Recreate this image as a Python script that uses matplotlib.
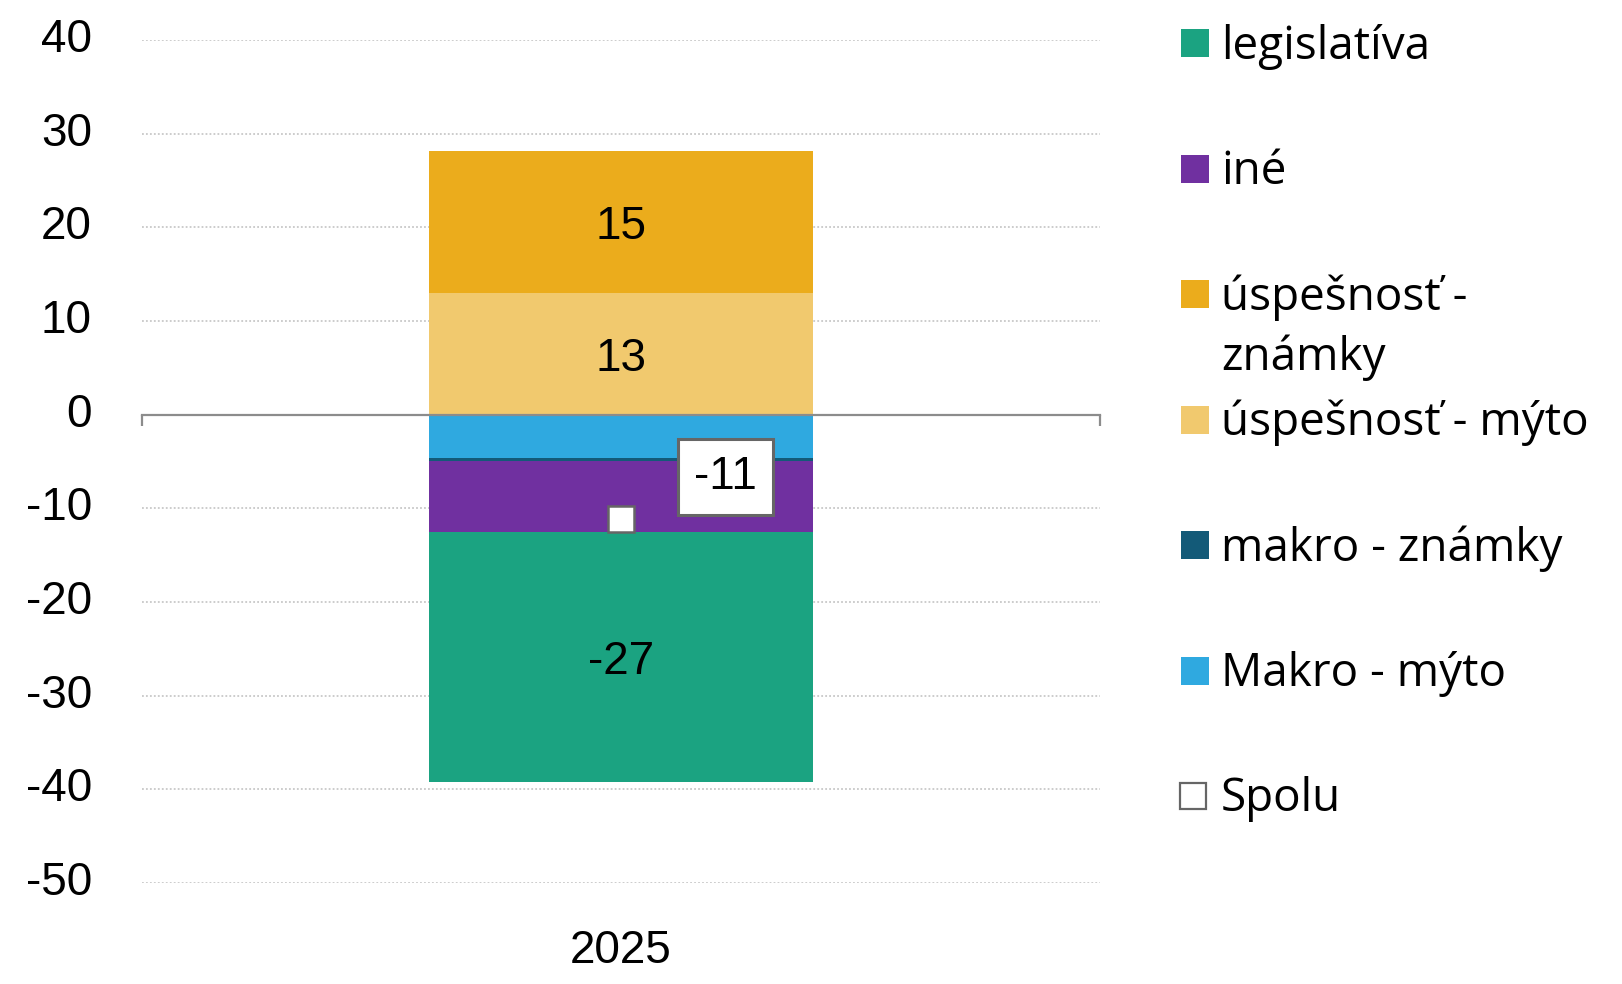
import numpy as np
import matplotlib.pyplot as plt
from matplotlib.patches import Rectangle

plt.rcParams["axes.unicode_minus"] = False

# --- Data ---
category = ["2025"]
series_names = ["Makro - mýto", "makro - známky", "úspešnosť - mýto",
                "úspešnosť - známky", "iné", "legislatíva"]
series_values = [-4.6, -0.3, 13.0, 15.1, -7.6, -26.7]
series_colors = ["#2FA9E0", "#135A78", "#F1C96E", "#EBAC1C", "#7030A0", "#1BA381"]
total_name = "Spolu"
total_value = sum(series_values)

# legend order as shown (top to bottom)
legend_names = ["legislatíva", "iné", "úspešnosť -\nznámky", "úspešnosť - mýto",
                "makro - známky", "Makro - mýto", "Spolu"]
legend_colors = ["#1BA381", "#7030A0", "#EBAC1C", "#F1C96E", "#135A78", "#2FA9E0", None]

W, H = 1622, 984
fig = plt.figure(figsize=(W / 100, H / 100), dpi=100)
ax = fig.add_axes([142 / W, 1 - 883 / H, (1100 - 142) / W, (883 - 40) / H])

x = np.arange(len(category))
pos_base = np.zeros(len(category))
neg_base = np.zeros(len(category))
for name, val, col in zip(series_names, series_values, series_colors):
    v = np.array([val])
    base = np.where(v >= 0, pos_base, neg_base)
    ax.bar(x, v, 0.4, bottom=base, color=col, zorder=2)
    if abs(val) >= 10:
        ax.text(x[0], base[0] + val / 2, f"{val:.0f}", ha="center",
                va="center_baseline", fontsize=33, family="Liberation Sans", zorder=4)
    pos_base = np.where(v >= 0, pos_base + v, pos_base)
    neg_base = np.where(v < 0, neg_base + v, neg_base)

# total marker
ax.plot(x, [total_value], marker="s", markersize=19, markerfacecolor="white",
        markeredgecolor="#666666", markeredgewidth=1.8, linestyle="none", zorder=5)
ax.annotate(f"{total_value:.0f}", (x[0], total_value), xytext=(75, 30),
            textcoords="offset points", ha="center", va="center", fontsize=33,
            family="Liberation Sans", zorder=6,
            bbox=dict(boxstyle="square,pad=0.35", fc="white", ec="#666666", lw=2.2))

ax.set_xlim(-0.5, 0.5)
ax.set_ylim(-50, 40)
ax.set_yticks(np.arange(-50, 41, 10))
ax.tick_params(axis="y", length=0, pad=36, labelsize=33)
for lab in ax.get_yticklabels():
    lab.set_family("Liberation Sans")
    lab.set_va("center")
for yv in np.arange(-50, 41, 10):
    if yv != 0:
        ax.axhline(yv, color="#C8C8C8", lw=1.3, ls=(0, (1, 1.2)), zorder=1)

for s in ["top", "right", "left"]:
    ax.spines[s].set_visible(False)
ax.spines["bottom"].set_position(("data", 0))
ax.spines["bottom"].set_color("#8C8C8C")
ax.spines["bottom"].set_linewidth(1.6)
ax.spines["bottom"].set_zorder(3)
ax.set_xticks([-0.5, 0.5])
ax.set_xticklabels([])
ax.tick_params(axis="x", length=8, width=1.6, color="#8C8C8C", direction="out")
ax.text(x[0], -63 / 843, category[0], transform=ax.get_xaxis_transform(),
        ha="center", va="center_baseline", fontsize=33, family="Liberation Sans")

# legend drawn by hand to match the evenly spaced rows
for i, (name, col) in enumerate(zip(legend_names, legend_colors)):
    yc = 43 + i * 125.5
    if col is None:
        fig.add_artist(Rectangle((1180 / W, 1 - (yc + 13) / H), 26 / W, 26 / H,
                                 transform=fig.transFigure, fc="white",
                                 ec="#666666", lw=1.6))
    else:
        fig.add_artist(Rectangle((1181 / W, 1 - (yc + 14) / H), 28 / W, 28 / H,
                                 transform=fig.transFigure, fc=col, ec="none"))
    for j, line in enumerate(name.split("\n")):
        fig.text(1221 / W, 1 - (yc - 2 + j * 60) / H, line, ha="left",
                 va="center_baseline", fontsize=33, family="Open Sans")

fig.savefig("out.png", dpi=100)
